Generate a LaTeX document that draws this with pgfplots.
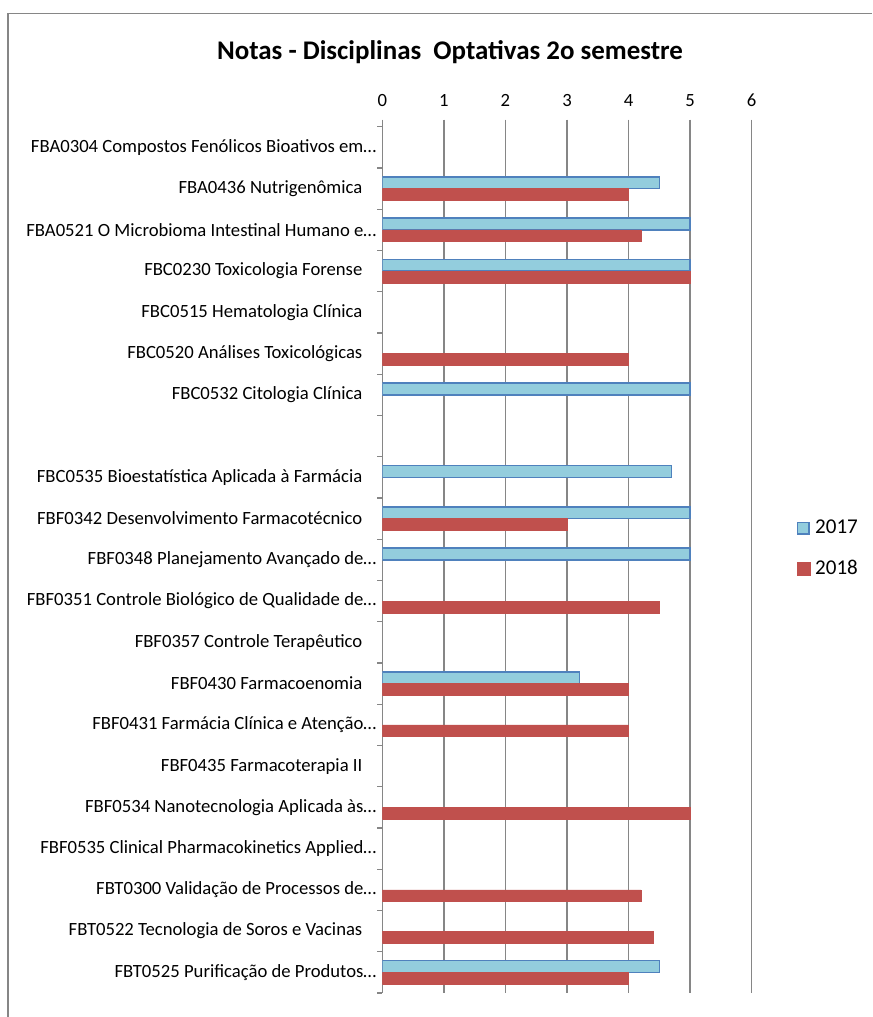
\documentclass[border=0pt]{standalone}
\usepackage{pgfplots}
\pgfplotsset{compat=1.18}
\usepackage{fontspec}
\setmainfont{Carlito}
\definecolor{c17}{HTML}{93CDDD}
\definecolor{c17e}{HTML}{4F81BD}
\definecolor{c18}{HTML}{C0504D}
\definecolor{gridc}{HTML}{868686}
\newcommand{\pad}{\hspace*{10.5pt}}
\begin{document}
\begin{tikzpicture}[x=0.75pt,y=0.75pt]
\path[use as bounding box] (0,0) rectangle (872,1017);
\draw[gridc, line width=1.1pt] (8,0) -- (8,{1017-13.5}) -- (872,{1017-13.5});
\node[font=\fontsize{20.2}{23}\selectfont\bfseries, inner sep=0pt] at (450,{1017-52}) {Notas - Disciplinas\ \ Optativas 2o semestre};
\begin{axis}[
  at={(286.725pt,667.725pt)}, anchor=north west,
  scale only axis, width=277.05pt, height=649.7pt,
  xmin=0, xmax=6, ymin=-0.5, ymax=20.5, y dir=reverse,
  axis line style={draw=none},
  /pgf/number format/assume math mode=true,
  xbar, bar width=8.8pt,
  xtick={0,1,2,3,4,5,6},
  xtick pos=upper, xticklabel pos=upper,
  tick align=outside,
  xtick style={gridc, line width=1pt, /pgfplots/major tick length=5.25pt},
  xmajorgrids, grid style={gridc, line width=1pt},
  xticklabel style={font=\fontsize{14}{16}\selectfont, inner sep=0pt, anchor=base, yshift=10.7pt},
  ytick={-0.5,0.5,...,20.5},
  y tick label as interval,
  ytick pos=left,
  ytick style={gridc, line width=1pt, /pgfplots/major tick length=3.75pt},
  yticklabel style={font=\fontsize{14}{16}\selectfont, inner sep=0pt, anchor=east},
  yticklabels={
    {FBA0304 Compostos Fenólicos Bioativos em…},
    {FBA0436 Nutrigenômica\pad},
    {FBA0521 O Microbioma Intestinal Humano e…},
    {FBC0230 Toxicologia Forense\pad},
    {FBC0515 Hematologia Clínica\pad},
    {FBC0520 Análises Toxicológicas\pad},
    {FBC0532 Citologia Clínica\pad},
    {},
    {FBC0535 Bioestatística Aplicada à Farmácia\pad},
    {FBF0342 Desenvolvimento Farmacotécnico\pad},
    {FBF0348 Planejamento Avançado de…},
    {FBF0351 Controle Biológico de Qualidade de…},
    {FBF0357 Controle Terapêutico\pad},
    {FBF0430 Farmacoenomia\pad},
    {FBF0431 Farmácia Clínica e Atenção…},
    {FBF0435 Farmacoterapia II\pad},
    {FBF0534 Nanotecnologia Aplicada às…},
    {FBF0535 Clinical Pharmacokinetics Applied…},
    {FBT0300 Validação de Processos de…},
    {FBT0522 Tecnologia de Soros e Vacinas\pad},
    {FBT0525 Purificação de Produtos…}
  },
  legend style={draw=none, fill=none, inner sep=0pt,
    at={(1.121,0.546)}, anchor=north west,
    font=\fontsize{15.8}{18}\selectfont,
    row sep=18.25pt,
    nodes={inner xsep=3.75pt, inner ysep=0pt},
    cells={anchor=west}},
]
\addplot[fill=c17, draw=c17e, line width=1.1pt, bar shift=4.4pt,
  legend image code/.code={\draw[fill=c17, draw=c17e, line width=1.1pt] (0.55pt,-4.3pt) rectangle (9.2pt,4.3pt);}]
  coordinates {(4.5,1) (5,2) (5,3) (5,6) (4.7,8) (5,9) (5,10) (3.2,13) (4.5,20)};
\addplot[fill=c18, draw=c18, line width=0.4pt, bar shift=-4.4pt,
  legend image code/.code={\fill[c18] (0pt,-4.9pt) rectangle (9.75pt,4.9pt);}]
  coordinates {(4,1) (4.2,2) (5,3) (4,5) (3,9) (4.5,11) (4,13) (4,14) (5,16) (4.2,18) (4.4,19) (4,20)};
\legend{2017,2018}
\end{axis}
\end{tikzpicture}
\end{document}
